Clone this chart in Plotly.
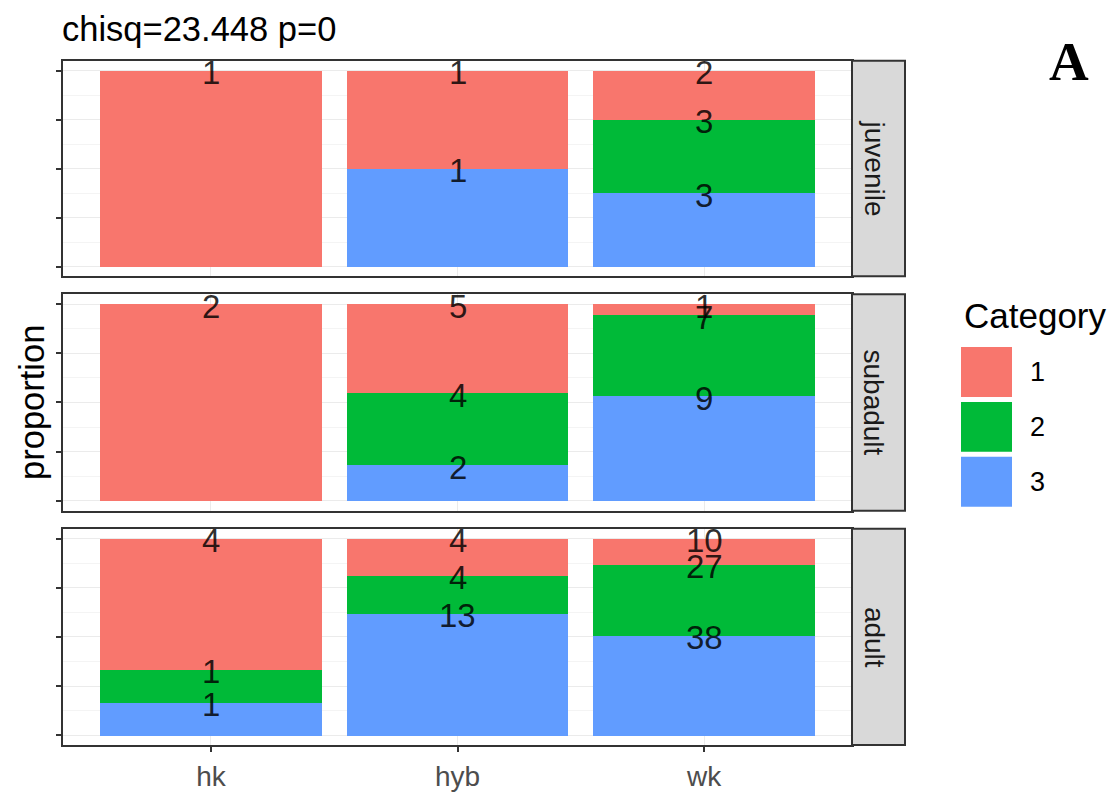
import plotly.graph_objects as go

# ---- data ----
groups = ["hk", "hyb", "wk"]
stages = ["juvenile", "subadult", "adult"]
category_names = ["1", "2", "3"]

juv_cat1 = [1, 1, 2]
juv_cat2 = [0, 0, 3]
juv_cat3 = [0, 1, 3]

sub_cat1 = [2, 5, 1]
sub_cat2 = [0, 4, 7]
sub_cat3 = [0, 2, 9]

adu_cat1 = [4, 4, 10]
adu_cat2 = [1, 4, 27]
adu_cat3 = [1, 13, 38]

title_text = "chisq=23.448 p=0"
colors = ["#F8766D", "#00BA38", "#619CFF"]

W, H = 1111, 792
FONT = "Liberation Sans, Arial, Helvetica"

def px(x):
    return x / W
def py(y):
    return 1 - y / H

panel_x = (63, 852)
panel_y = [(61, 277), (295, 512), (530, 747)]
strip_x = (852, 905)

stage_counts = [
    (juv_cat1, juv_cat2, juv_cat3),
    (sub_cat1, sub_cat2, sub_cat3),
    (adu_cat1, adu_cat2, adu_cat3),
]

xpos = [1, 2, 3]
fig = go.Figure()
layout = {}
annotations = []
shapes = []

for i, (c1, c2, c3) in enumerate(stage_counts):
    n = i + 1
    xa = "x" if n == 1 else f"x{n}"
    ya = "y" if n == 1 else f"y{n}"
    totals = [a + b + c for a, b, c in zip(c1, c2, c3)]
    p1 = [a / t for a, t in zip(c1, totals)]
    p2 = [b / t for b, t in zip(c2, totals)]
    p3 = [c / t for c, t in zip(c3, totals)]
    # stack: cat3 bottom, cat2 middle, cat1 top
    for cat_idx, props in [(2, p3), (1, p2), (0, p1)]:
        fig.add_trace(go.Bar(
            x=xpos, y=props, width=0.9, marker=dict(color=colors[cat_idx], line=dict(width=0)),
            xaxis=xa, yaxis=ya, showlegend=False, name=category_names[cat_idx],
        ))
    # count labels centred on the top edge of each segment
    tops3 = p3
    tops2 = [a + b for a, b in zip(p3, p2)]
    tops1 = [a + b + c for a, b, c in zip(p3, p2, p1)]
    for counts, tops in [(c1, tops1), (c2, tops2), (c3, tops3)]:
        for xv, cnt, tp in zip(xpos, counts, tops):
            if cnt > 0:
                annotations.append(dict(
                    xref=xa, yref=ya, x=xv, y=tp, text=str(cnt), showarrow=False,
                    xanchor="center", yanchor="middle", yshift=-2,
                    font=dict(size=33, color="rgba(0,0,0,0.82)", family=FONT),
                ))
    y0, y1 = panel_y[i]
    layout["xaxis" if n == 1 else f"xaxis{n}"] = dict(
        domain=[px(panel_x[0]), px(panel_x[1])], anchor=ya,
        range=[0.4, 3.6], tickvals=xpos, ticktext=groups,
        showticklabels=(n == 3), ticks="outside" if n == 3 else "",
        ticklen=5, tickwidth=2, tickcolor="#333333",
        tickfont=dict(size=28, color="#4D4D4D", family=FONT),
        showgrid=True, gridcolor="#EBEBEB", gridwidth=1,
        showline=True, mirror=True, linecolor="#333333", linewidth=2,
        zeroline=False, fixedrange=True,
    )
    layout["yaxis" if n == 1 else f"yaxis{n}"] = dict(
        domain=[py(y1), py(y0)], anchor=xa,
        range=[-0.05, 1.05], tickvals=[0, 0.25, 0.5, 0.75, 1],
        showticklabels=False, ticks="outside", ticklen=5, tickwidth=2, tickcolor="#333333",
        showgrid=True, gridcolor="#EBEBEB", gridwidth=1,
        minor=dict(tickvals=[0.125, 0.375, 0.625, 0.875], showgrid=True, gridcolor="#F4F4F4", gridwidth=1, ticks=""),
        showline=True, mirror=True, linecolor="#333333", linewidth=2,
        zeroline=False, fixedrange=True,
    )
    # strip
    shapes.append(dict(type="rect", xref="paper", yref="paper",
                       x0=px(strip_x[0]), x1=px(strip_x[1]), y0=py(y1), y1=py(y0),
                       fillcolor="#D9D9D9", line=dict(color="#333333", width=2), layer="above"))
    annotations.append(dict(xref="paper", yref="paper", x=px(874),
                            y=py((y0 + y1) / 2), text=stages[i], showarrow=False, textangle=90,
                            font=dict(size=28, color="#1A1A1A", family=FONT),
                            xanchor="center", yanchor="middle"))

# title
annotations.append(dict(xref="paper", yref="paper", x=px(60), y=py(29), text=title_text,
                        showarrow=False, xanchor="left", yanchor="middle",
                        font=dict(size=34.5, color="#000000", family=FONT)))
# panel label
annotations.append(dict(xref="paper", yref="paper", x=px(1069), y=py(62), text="<b>A</b>",
                        showarrow=False, xanchor="center", yanchor="middle",
                        font=dict(size=55, color="#000000", family="Liberation Serif, DejaVu Serif")))
# y-axis title
annotations.append(dict(xref="paper", yref="paper", x=px(32), y=py(404), text="proportion",
                        showarrow=False, textangle=-90, xanchor="center", yanchor="middle",
                        font=dict(size=34.5, color="#000000", family=FONT)))
# legend (manual)
annotations.append(dict(xref="paper", yref="paper", x=px(962), y=py(316), text="Category",
                        showarrow=False, xanchor="left", yanchor="middle",
                        font=dict(size=35, color="#000000", family=FONT)))
key_tops = [348, 403, 458]
for k, top in enumerate(key_tops):
    shapes.append(dict(type="rect", xref="paper", yref="paper",
                       x0=px(961), x1=px(1012), y0=py(top + 50), y1=py(top),
                       fillcolor=colors[k], line=dict(width=0)))
    annotations.append(dict(xref="paper", yref="paper", x=px(1028), y=py(top + 25),
                            text=category_names[k], showarrow=False, xanchor="left", yanchor="middle",
                            font=dict(size=27, color="#000000", family=FONT)))

fig.update_layout(
    width=W, height=H, margin=dict(l=0, r=0, t=0, b=0),
    paper_bgcolor="white", plot_bgcolor="white",
    barmode="stack", bargap=0, showlegend=False,
    annotations=annotations, shapes=shapes, **layout,
)

fig.write_html("out.html", config={"displayModeBar": False},
               post_script="document.body.style.margin='0';")
